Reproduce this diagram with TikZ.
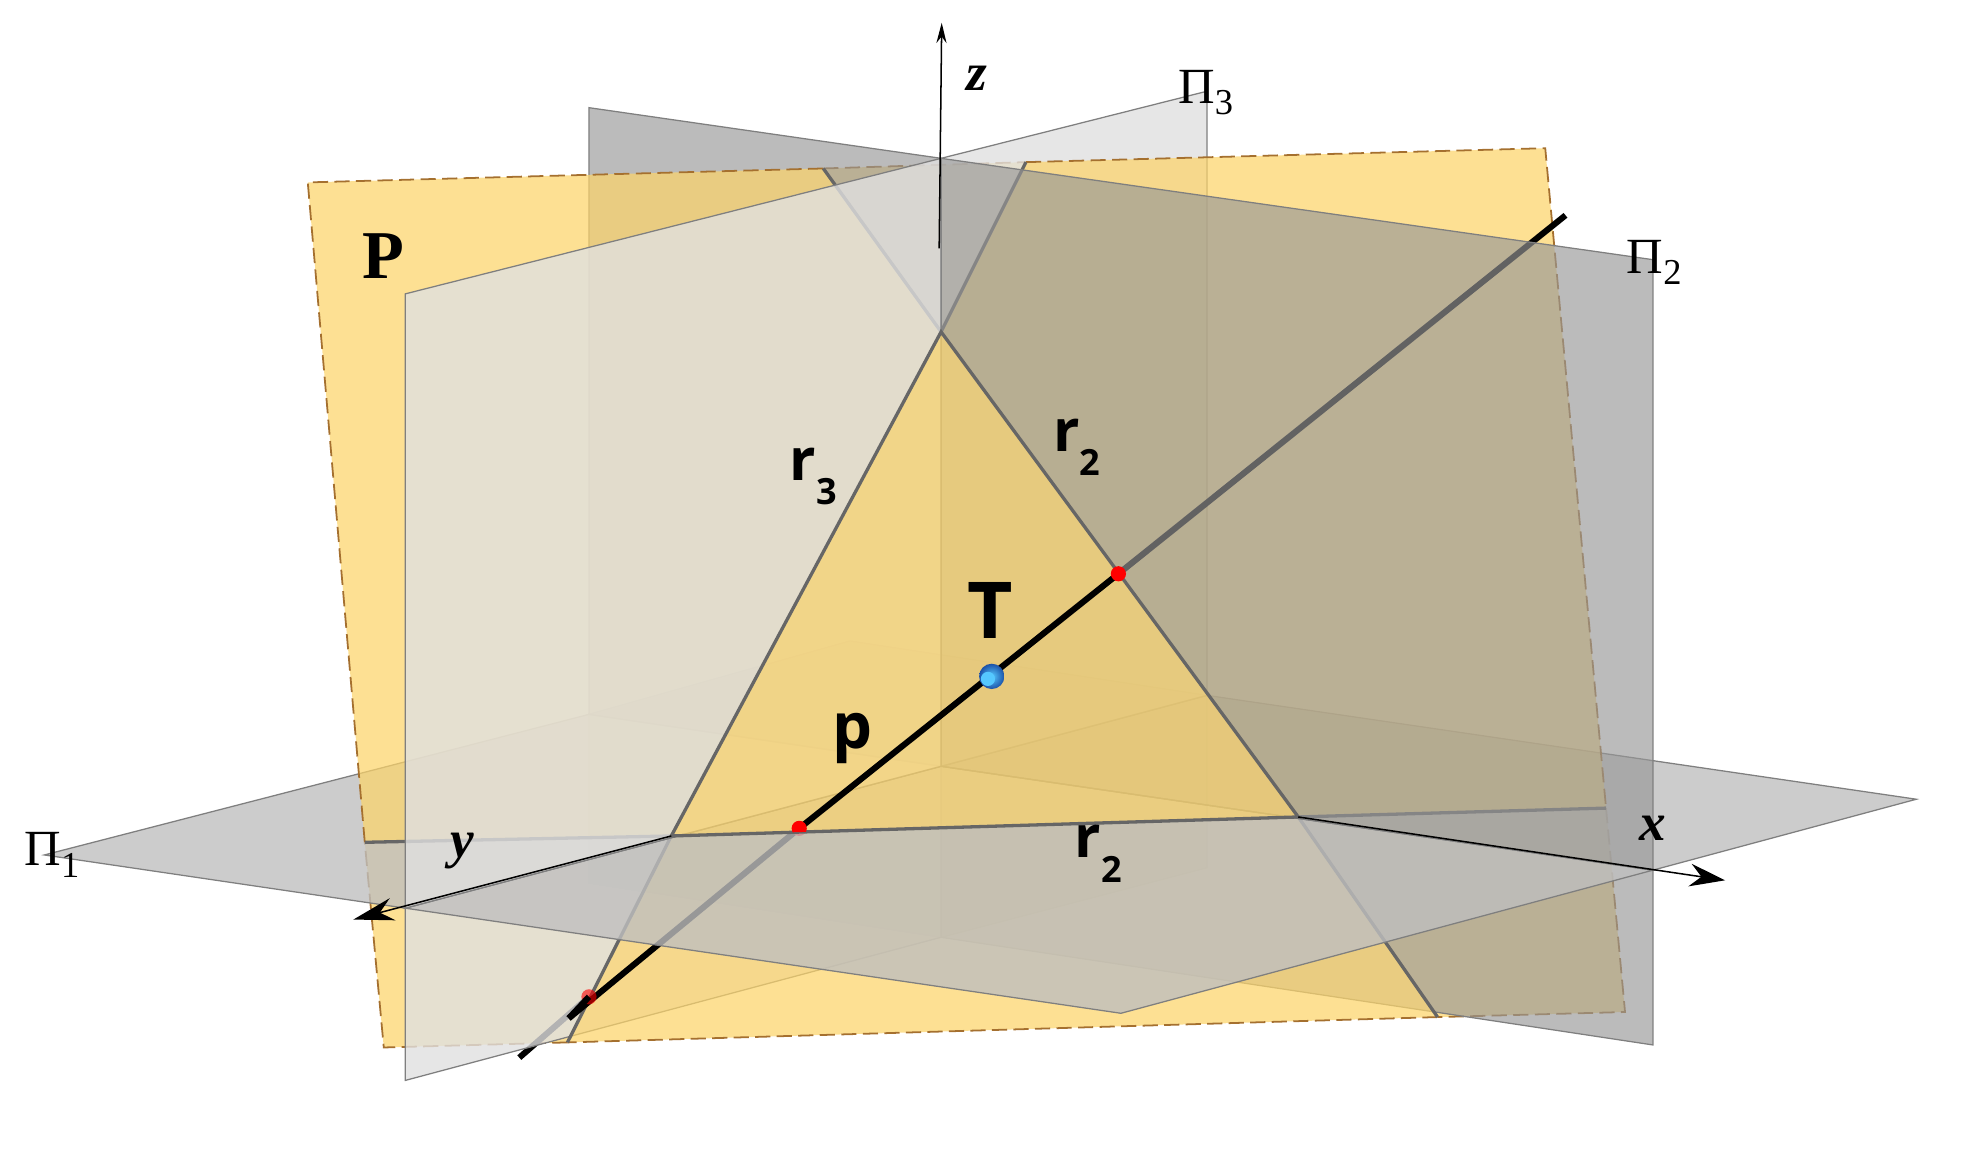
\documentclass[tikz,border=0pt]{standalone}
\usepackage{fontspec}
\setmainfont{Liberation Serif}
\newfontfamily\tagfont{Open Sans}
\usetikzlibrary{arrows.meta}

\definecolor{planeYellow}{HTML}{FCD46A}
\definecolor{edgeGray}{HTML}{7F7F7F}
\definecolor{traceGray}{HTML}{666666}
\definecolor{rimBrown}{HTML}{A5702F}
\definecolor{ballLight}{HTML}{55C8FF}
\definecolor{ballRim}{HTML}{1C52A8}

\def \pointSize {3pt}
\def \ballSize {5pt}

\newcommand{\lowIdx}[1]{\raisebox{-0.42em}{\fontsize{0.62em}{1em}\selectfont #1}}
\newcommand{\planeIdx}[1]{\raisebox{-0.22em}{\fontsize{0.72em}{1em}\selectfont #1}}

\tikzset{
   floorPlane/.style={fill={rgb,255:red,191;green,191;blue,191}, fill opacity=0.8, draw=edgeGray, line width=0.5pt},
   backPlane/.style={fill={rgb,255:red,151;green,151;blue,151}, fill opacity=0.65, draw=edgeGray, line width=0.5pt},
   sidePlane/.style={fill={rgb,255:red,224;green,224;blue,224}, fill opacity=0.8, draw=edgeGray, line width=0.5pt},
   slantPlane/.style={fill=planeYellow, fill opacity=0.72},
   slantRim/.style={draw=rimBrown, line width=0.7pt, dash pattern=on 6pt off 2.5pt},
   trace/.style={draw=traceGray, line width=1.3pt},
   pierce/.style={draw=black, line width=2.4pt},
   axis/.style={draw=black, line width=0.6pt},
   planeTag/.style={font=\fontsize{20}{22}\selectfont, inner sep=0pt},
   axisTag/.style={font=\fontsize{21}{22}\selectfont\bfseries\itshape, inner sep=0pt},
   lineTag/.style={font=\tagfont\bfseries\fontsize{23}{25}\selectfont, inner sep=0pt}
}

\begin{document}
\begin{tikzpicture}[x=0.5pt, y=-0.5pt]
   \useasboundingbox (0,0) rectangle (1568,917.4);

   \coordinate (O) at (743,605);
   \coordinate (xLeft) at (465,564);
   \coordinate (xRight) at (1305,687);
   \coordinate (yFront) at (320,717);
   \coordinate (yBack) at (953,549);
   \coordinate (zTop) at (743,125);
   \coordinate (zLow) at (743,740);

   \coordinate (floorL) at (35,675);
   \coordinate (floorB) at (671,506);
   \coordinate (floorR) at (1513,631);
   \coordinate (floorF) at (885,800);

   \coordinate (backA) at (465,85);
   \coordinate (backB) at (1305,205);
   \coordinate (backC) at (1305,825);
   \coordinate (backD) at (465,697);

   \coordinate (sideA) at (320,232);
   \coordinate (sideB) at (953,72);
   \coordinate (sideC) at (953,685);
   \coordinate (sideD) at (320,853);

   \coordinate (slantTL) at (243,144);
   \coordinate (slantTR) at (1220,117);
   \coordinate (slantBR) at (1283,799);
   \coordinate (slantBL) at (303,827);

   \coordinate (cutX) at (1025,645);
   \coordinate (cutY) at (530,660);
   \coordinate (cutZ) at (743,262);
   \coordinate (topL) at (650,133);
   \coordinate (topR) at (810,128);
   \coordinate (lowL) at (448,823);
   \coordinate (lowR) at (1135,803);
   \coordinate (midL) at (288,665);
   \coordinate (midR) at (1268,638);

   \coordinate (pStart) at (410,835);
   \coordinate (pBack) at (449,804);
   \coordinate (pOne) at (465,787);
   \coordinate (pTwo) at (631,654);
   \coordinate (pThree) at (883,453);
   \coordinate (pEnd) at (1236,170);
   \coordinate (pointT) at (783,534);
   \coordinate (pointGlow) at (780,536);

   % farthest pieces
   \filldraw[floorPlane] (O) -- (xLeft) -- (floorB) -- (yBack) -- cycle;
   \filldraw[backPlane] (O) -- (xLeft) -- (backD) -- (zLow) -- cycle;
   \filldraw[sidePlane] (O) -- (yBack) -- (sideC) -- (zLow) -- cycle;

   \fill[slantPlane] (cutZ) -- (topL) -- (topR) -- cycle;
   \fill[slantPlane] (cutX) -- (midR) -- (slantBR) -- (lowR) -- cycle;
   \fill[slantPlane] (cutY) -- (lowL) -- (slantBL) -- (midL) -- cycle;
   \draw[slantRim] (topL) -- (topR);
   \draw[slantRim] (midR) -- (slantBR) -- (lowR);
   \draw[slantRim] (lowL) -- (slantBL) -- (midL);
   \draw[pierce] (pStart) -- (pOne);

   % middle pieces
   \filldraw[floorPlane] (O) -- (yBack) -- (floorR) -- (xRight) -- cycle;
   \filldraw[floorPlane] (O) -- (yFront) -- (floorL) -- (xLeft) -- cycle;
   \filldraw[backPlane] (O) -- (xRight) -- (backC) -- (zLow) -- cycle;
   \filldraw[backPlane] (O) -- (xLeft) -- (backA) -- (zTop) -- cycle;
   \filldraw[sidePlane] (O) -- (yFront) -- (sideD) -- (zLow) -- cycle;
   \filldraw[sidePlane] (O) -- (yBack) -- (sideB) -- (zTop) -- cycle;

   \fill[slantPlane] (cutY) -- (cutZ) -- (topL) -- (slantTL) -- (midL) -- cycle;
   \fill[slantPlane] (cutX) -- (cutZ) -- (topR) -- (slantTR) -- (midR) -- cycle;
   \fill[slantPlane] (cutY) -- (cutX) -- (lowR) -- (lowL) -- cycle;
   \draw[slantRim] (midL) -- (slantTL) -- (topL);
   \draw[slantRim] (topR) -- (slantTR) -- (midR);
   \draw[slantRim] (lowR) -- (lowL);
   \draw[trace] (cutZ) -- (topL);
   \draw[trace] (cutZ) -- (topR);
   \draw[trace] (cutY) -- (lowL);
   \draw[trace] (cutX) -- (lowR);
   \draw[trace] (cutY) -- (midL);
   \draw[trace] (cutX) -- (midR);
   \draw[pierce] (pBack) -- (pTwo);
   \draw[pierce] (pThree) -- (pEnd);
   \fill[red, opacity=0.6] (pOne) circle (\pointSize);
   \fill[red] (pTwo) circle (\pointSize);
   \draw[pierce] (pBack) -- (pOne);

   % nearest pieces
   \filldraw[floorPlane] (O) -- (xRight) -- (floorF) -- (yFront) -- cycle;
   \filldraw[backPlane] (O) -- (xRight) -- (backB) -- (zTop) -- cycle;
   \filldraw[sidePlane] (O) -- (yFront) -- (sideA) -- (zTop) -- cycle;

   \fill[slantPlane] (cutX) -- (cutY) -- (cutZ) -- cycle;
   \draw[trace] (cutX) -- (cutY) -- (cutZ) -- cycle;
   \draw[pierce] (pTwo) -- (pThree);
   \begin{scope}
      \clip (cutX) -- (cutY) -- (cutZ) -- cycle;
      \fill[red] (pTwo) circle (\pointSize);
   \end{scope}
   \fill[red] (pThree) circle (\pointSize);
   \shade[inner color=ballLight, outer color=ballRim] (pointT) circle (\ballSize);
   \fill[ballLight] (pointGlow) circle (2.8pt);

   \coordinate (zBase) at (741.5,196);
   \coordinate (zTip) at (743.5,18);
   \coordinate (xTip) at (1362,695);
   \coordinate (yTip) at (279,726);
   \draw[axis, -{Stealth[length=8pt, width=4pt]}] (zBase) -- (zTip);
   \draw[axis, -{Stealth[length=14pt, width=9pt]}] (cutX) -- (xTip);
   \draw[axis, -{Stealth[length=16pt, width=9pt]}] (cutY) -- (yTip);

   \node[axisTag] (labelZ) at (771,62) {z};
   \node[axisTag] (labelX) at (1305,654) {x};
   \node[axisTag] (labelY) at (365,672) {y};
   \node[planeTag] (labelOne) at (41,675) {Π\planeIdx{1}};
   \node[planeTag] (labelTwo) at (1306,207) {Π\planeIdx{2}};
   \node[planeTag] (labelThree) at (952,73) {Π\planeIdx{3}};
   \node[font=\fontsize{27}{30}\selectfont\bfseries, inner sep=0pt] (labelP) at (303,202) {P};
   \node[lineTag] (labelRThree) at (642,376) {r\lowIdx{3}};
   \node[lineTag] (labelRTwo) at (850,353) {r\lowIdx{2}};
   \node[lineTag] (labelRLow) at (867,674) {r\lowIdx{2}};
   \node[lineTag, font=\tagfont\bfseries\fontsize{25}{27}\selectfont] (labelLine) at (673,583) {p};
   \node[lineTag, font=\tagfont\bfseries\fontsize{31}{33}\selectfont] (labelT) at (782,482) {T};
\end{tikzpicture}
\end{document}
